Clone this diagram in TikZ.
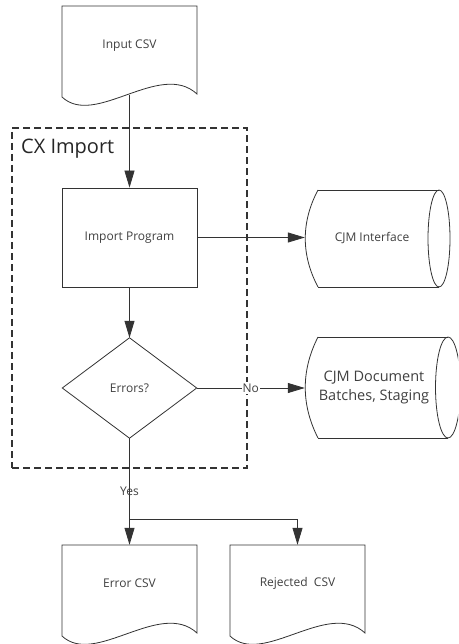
\documentclass[tikz,border=0pt]{standalone}
\usepackage{fontspec}
\setmainfont{Open Sans}
\usetikzlibrary{arrows.meta,calc}
\newcommand\docoutline[2]{%
  \draw[shapeline] (#1,#2) -- (#1+135,#2) -- (#1+135,#2+88)
    .. controls (#1+98,#2+54) and (#1+33,#2+122) .. (#1,#2+91) -- cycle;}
\newcommand\storeoutline[5]{% #1 apex x, #2 top y, #3 bottom y, #4 lens x, #5 lens x radius
  \draw[shapeline] (#1+13,#2) -- (#4,#2);
  \draw[shapeline] (#1+13,#3) -- (#4,#3);
  \draw[shapeline] (#1+13,#2) .. controls (#1-4,#2+0.33*#3-0.33*#2) and (#1-4,#2+0.67*#3-0.67*#2) .. (#1+13,#3);
  \draw[shapeline] (#4,#2/2+#3/2) ellipse [x radius=#5pt, y radius={(#3-#2)*0.5pt}];}
\begin{document}
\begin{tikzpicture}[x=1pt,y=-1pt,
  shapeline/.style={draw=black!80, line width=0.8pt},
  arr/.style={shapeline, -{Triangle[length=17pt,width=10pt]}},
  lbl/.style={text=black!75, font=\fontsize{12}{15}\selectfont, inner sep=0pt, align=center},
  dashbox/.style={draw=black!80, line width=1.1pt, dash pattern=on 7pt off 4pt},
  boxshape/.style={lbl, draw=black!80, line width=0.8pt}]
\useasboundingbox (0,0) rectangle (458,644);
\clip (0,0) rectangle (458,644);
\fill[white] (0,0) rectangle (458,644);

% container
\node[dashbox, minimum width=235pt, minimum height=340pt, inner sep=0pt] (cx) at (129.5,298) {};
\node[text=black!85, font=\fontsize{20}{24}\selectfont, anchor=west, inner sep=0pt] (cxl) at (21,149) {CX Import};

% shapes
\node[lbl, minimum width=135pt, minimum height=80pt] (in) at (129.5,46) {Input CSV};
\docoutline{62}{6}
\coordinate (inb) at (129.5,95);

\node[boxshape, minimum width=135pt, minimum height=99pt] (imp) at (129.5,237.5) {Import Program};

\node[lbl, minimum width=134pt, minimum height=100pt] (err) at (129.5,388) {Errors?};
\draw[shapeline] (err.north) -- (err.east) -- (err.south) -- (err.west) -- cycle;

\node[lbl, minimum width=134pt, minimum height=97pt] (ci) at (372,238.5) {CJM Interface};
\storeoutline{305}{190}{287}{439}{11}

\node[lbl, font=\fontsize{14.5}{19}\selectfont, minimum width=138pt, minimum height=101pt] (cd) at (374,387.5) {CJM Document\\Batches, Staging};
\storeoutline{305}{337}{438}{448}{12.5}

\node[lbl, minimum width=135pt, minimum height=76pt] (ec) at (129.5,583) {Error CSV};
\docoutline{62}{545}
\node[lbl, minimum width=135pt, minimum height=76pt] (rc) at (297.5,583) {Rejected\ \ CSV};
\docoutline{230}{545}

% connectors
\draw[arr] (inb) -- (imp.north);
\draw[arr] (imp.east) -- (imp.east -| ci.west);
\draw[arr] (imp.south) -- (err.north);
\draw[arr] (err.east) -- (err.east -| cd.west) node[lbl, pos=0.5, fill=white, inner xsep=1pt, inner ysep=2pt] (no) {No};
\draw[arr] (err.south) -- (err.south |- ec.north) node[lbl, pos=0.5] (yes) {Yes};
\coordinate (br) at (129.5,519);
\draw[arr] (br) -| (rc.north);
\end{tikzpicture}
\end{document}
